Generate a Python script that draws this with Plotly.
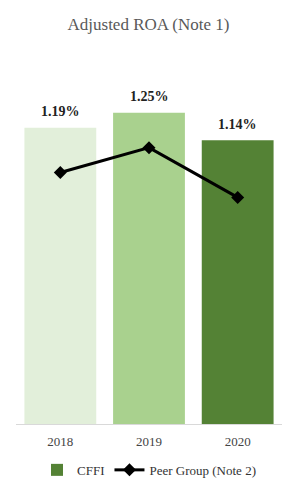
import plotly.graph_objects as go

years = ["2018", "2019", "2020"]
cffi = [1.19, 1.25, 1.14]
peer = [1.01, 1.11, 0.91]
bar_colors = ["#E2EFDA", "#A9D18E", "#548235"]
labels = ["1.19%", "1.25%", "1.14%"]

serif = "Liberation Serif, DejaVu Serif, serif"

fig = go.Figure()
fig.add_trace(go.Bar(
    x=years, y=cffi, name="CFFI", showlegend=False,
    marker=dict(color=bar_colors, line=dict(width=0)),
))
# legend entry for CFFI in the dark green used by the reference legend (zero-height bars)
fig.add_trace(go.Bar(
    x=years, y=[0, 0, 0], name="CFFI", showlegend=True, hoverinfo="skip",
    marker=dict(color="#548235", line=dict(width=0)),
))
fig.add_trace(go.Scatter(
    x=years, y=peer, name="Peer Group (Note 2)",
    mode="lines+markers",
    line=dict(color="black", width=3),
    marker=dict(symbol="diamond", size=10, color="black"),
))

for i, (v, lab) in enumerate(zip(cffi, labels)):
    fig.add_annotation(x=i, y=v, text="<b>%s</b>" % lab, showarrow=False,
                       yshift=16, font=dict(family=serif, size=14, color="#222222"))

fig.update_layout(
    width=297, height=490,
    margin=dict(l=16, r=15, t=60, b=66, autoexpand=False),
    paper_bgcolor="white", plot_bgcolor="white",
    title=dict(text="Adjusted ROA (Note 1)", x=0.5, xanchor="center",
               yref="container", y=0.951, yanchor="middle",
               font=dict(family=serif, size=17, color="#595959")),
    bargap=0.19, barmode="overlay",
    showlegend=True,
    legend=dict(orientation="h", x=0.5, xanchor="center",
                yref="container", y=0.041, yanchor="middle",
                font=dict(family=serif, size=13, color="#333333"),
                tracegroupgap=0, traceorder="normal"),
    font=dict(family=serif),
)
fig.update_xaxes(showline=True, linecolor="#D9D9D9", linewidth=1, automargin=False,
                 ticks="outside", ticklen=5, tickcolor="rgba(0,0,0,0)",
                 tickfont=dict(family=serif, size=13, color="#444444"), showgrid=False)
fig.update_yaxes(range=[0, 1.462], visible=False, showgrid=False, zeroline=False)

fig.write_html("out.html")
